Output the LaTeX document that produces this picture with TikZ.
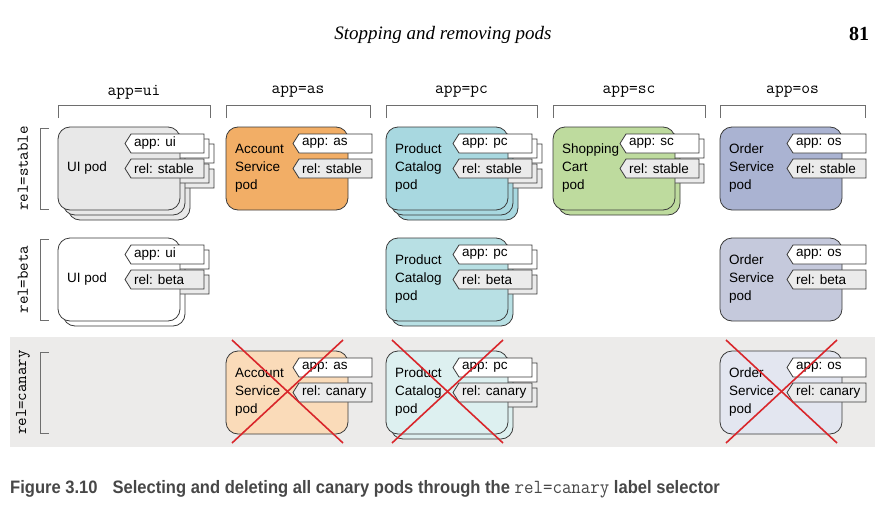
\documentclass[tikz,border=0pt]{standalone}
\usepackage{fontspec}
\usepackage{xcolor}
\setmainfont{Liberation Sans}
\newfontfamily\headfont{Liberation Serif}
\usepackage{tikz}
\usetikzlibrary{positioning}

\definecolor{linegray}{HTML}{3A3A3A}
\definecolor{brgray}{HTML}{6E6E6E}
\definecolor{captiongray}{HTML}{474747}
\definecolor{relfill}{HTML}{EBEBEB}
\definecolor{canarybg}{HTML}{ECEBEA}
\definecolor{crossred}{HTML}{D9262B}
\definecolor{uistable}{HTML}{E8E8E8}
\definecolor{asstable}{HTML}{F2AE66}
\definecolor{pcstable}{HTML}{A8D8E0}
\definecolor{scstable}{HTML}{BEDB9E}
\definecolor{osstable}{HTML}{AAB3D2}
\definecolor{pcbeta}{HTML}{B8E0E4}
\definecolor{osbeta}{HTML}{C5C9DC}
\definecolor{ascanary}{HTML}{FADBB9}
\definecolor{pccanary}{HTML}{DDF0F0}
\definecolor{oscanary}{HTML}{E3E6F0}

% #1 name, #2 x, #3 y, #4 offsets of the copies (back first), #5 fill,
% #6 pod text, #7 app, #8 rel
\newcommand{\pod}[8]{%
  \begin{scope}[shift={(#2,#3)}]
    \foreach \k in {#4}{
      \begin{scope}[shift={(\k,\k)}]
        \draw[card,fill=#5] (0,0) rectangle (122,83);
        \draw[tagbox,fill=white] (67,16.5) -- (73,7) -- (146,7) -- (146,26) -- (73,26) -- cycle;
        \draw[tagbox,fill=relfill] (67,41.5) -- (73,32) -- (146,32) -- (146,51) -- (73,51) -- cycle;
      \end{scope}}
    \node[podtext] (#1) at (9,41.5) {#6};
    \node[tagtext] (#1-app) at (76,16.5) {app: #7};
    \node[tagtext] (#1-rel) at (76,41.5) {rel: #8};
  \end{scope}}

\newcommand{\crossout}[2]{%
  \draw[cross] (#1+6,#2-11) -- (#1+117,#2+92);
  \draw[cross] (#1+117,#2-11) -- (#1+6,#2+92);}

\begin{document}
\begin{tikzpicture}[
  x=1pt, y=-1pt,
  card/.style={draw=linegray,line width=0.8pt,rounded corners=12pt},
  tagbox/.style={draw=linegray,line width=0.8pt},
  podtext/.style={anchor=west,align=left,inner sep=0pt,font=\fontsize{13.5}{18}\selectfont},
  tagtext/.style={anchor=west,inner sep=0pt,font=\fontsize{13.5}{16}\selectfont},
  colhead/.style={inner sep=0pt,font=\ttfamily\fontsize{17}{20}\selectfont},
  rowhead/.style={inner sep=0pt,rotate=90,font=\ttfamily\fontsize{16.5}{20}\selectfont},
  bracket/.style={draw=brgray,line width=0.8pt},
  cross/.style={draw=crossred,line width=1.6pt}
]
\useasboundingbox (0,0) rectangle (888,511);

% page head
\node[font=\headfont\itshape\fontsize{19}{22}\selectfont] (title) at (443,35) {Stopping and removing pods};
\node[font=\headfont\bfseries\fontsize{20}{22}\selectfont] (page) at (859,34) {81};

% canary band
\fill[canarybg] (10,337) rectangle (875,447);

% columns
\foreach \xa/\xb/\app in {58/210/ui,226/370/as,386/537/pc,553/705/sc,720/865/os}{
  \draw[bracket] (\xa,118) |- (\xb,105) -- (\xb,118);
  \node[colhead] (col-\app) at ({(\xa+\xb)/2},92) {app=\app};
}

% rows
\foreach \ya/\rel in {127/stable,238/beta,351/canary}{
  \draw[bracket] (49,\ya+1) -| (40,\ya+82) -- (49,\ya+82);
  \node[rowhead] (row-\rel) at (23,\ya+41.5) {rel=\rel};
}

% rel=stable
\pod{ui-stable}{58}{127}{10,5,0}{uistable}{UI pod}{ui}{stable}
\pod{as-stable}{226}{127}{0}{asstable}{Account\\Service\\pod}{as}{stable}
\pod{pc-stable}{386}{127}{10,5,0}{pcstable}{Product\\Catalog\\pod}{pc}{stable}
\pod{sc-stable}{553}{127}{5,0}{scstable}{Shopping\\Cart\\pod}{sc}{stable}
\pod{os-stable}{720}{127}{0}{osstable}{Order\\Service\\pod}{os}{stable}

% rel=beta
\pod{ui-beta}{58}{238}{5,0}{white}{UI pod}{ui}{beta}
\pod{pc-beta}{386}{238}{5,0}{pcbeta}{Product\\Catalog\\pod}{pc}{beta}
\pod{os-beta}{720}{238}{0}{osbeta}{Order\\Service\\pod}{os}{beta}

% rel=canary, deleted
\pod{as-canary}{226}{351}{0}{ascanary}{Account\\Service\\pod}{as}{canary}
\pod{pc-canary}{386}{351}{5,0}{pccanary}{Product\\Catalog\\pod}{pc}{canary}
\pod{os-canary}{720}{351}{0}{oscanary}{Order\\Service\\pod}{os}{canary}
\crossout{226}{351}
\crossout{386}{351}
\crossout{720}{351}

% caption
\node[anchor=west,inner sep=0pt,text=captiongray] (caption) at (10,489) {\scalebox{0.92}[1]{\bfseries\fontsize{18}{20}\selectfont
  Figure 3.10\hspace{0.9em}Selecting and deleting all canary pods through the {\ttfamily\mdseries\fontsize{20}{20}\selectfont rel=canary} label selector}};
\end{tikzpicture}
\end{document}
